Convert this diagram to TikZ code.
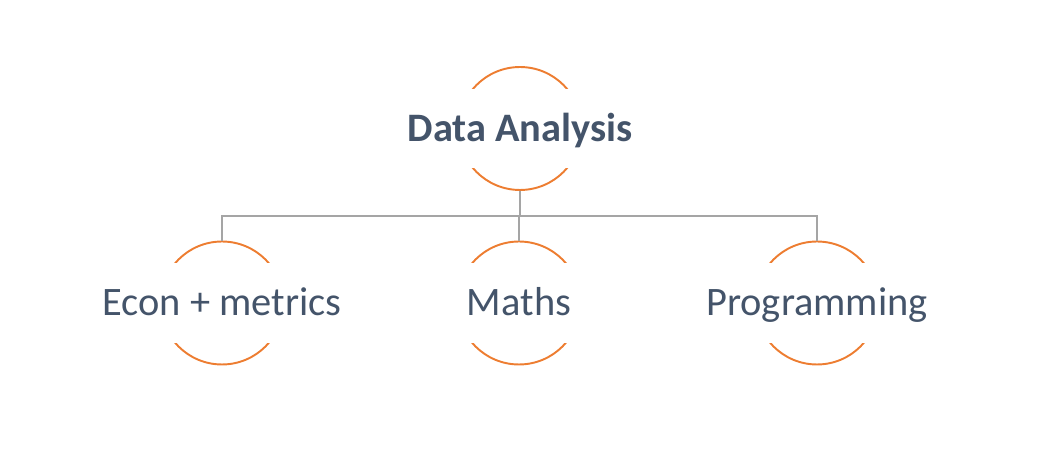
\documentclass[tikz,border=0pt]{standalone}
\usepackage{fontspec}
\setmainfont{Carlito}
\usetikzlibrary{calc}
\definecolor{slate}{HTML}{44546A}
\definecolor{accent}{HTML}{ED7D31}
\definecolor{linkgray}{HTML}{A5A5A5}

\begin{document}
\begin{tikzpicture}[x=0.02cm, y=-0.02cm,
    ring/.style={circle, draw=accent, line width=1.1pt, minimum size=2.46cm, inner sep=0pt},
    txtbox/.style={fill=white, text=slate, minimum width=2.7cm, minimum height=1.6cm,
        text height=0.514cm, text depth=0pt, font=\fontsize{23}{28}\selectfont},
    link/.style={draw=linkgray, line width=1.1pt}]
    \useasboundingbox (0,0) rectangle (1038,472);

    % Draw rings
    \node[ring] (da) at (520,128.5) {};
    \node[ring] (em) at (222,303) {};
    \node[ring] (ma) at (519,303) {};
    \node[ring] (pr) at (817,303) {};

    % Draw links
    \coordinate (bus) at (520,216);
    \foreach \n in {em,ma,pr}
        \draw[link] (da.south) |- (bus) -| (\n.north);

    % Labels
    \node[txtbox, font=\fontsize{23}{28}\selectfont\bfseries] (dat) at (da) {Data Analysis};
    \node[txtbox] (emt) at (em) {Econ + metrics};
    \node[txtbox] (mat) at (ma) {Maths};
    \node[txtbox] (prt) at (pr) {Programming};
\end{tikzpicture}
\end{document}
